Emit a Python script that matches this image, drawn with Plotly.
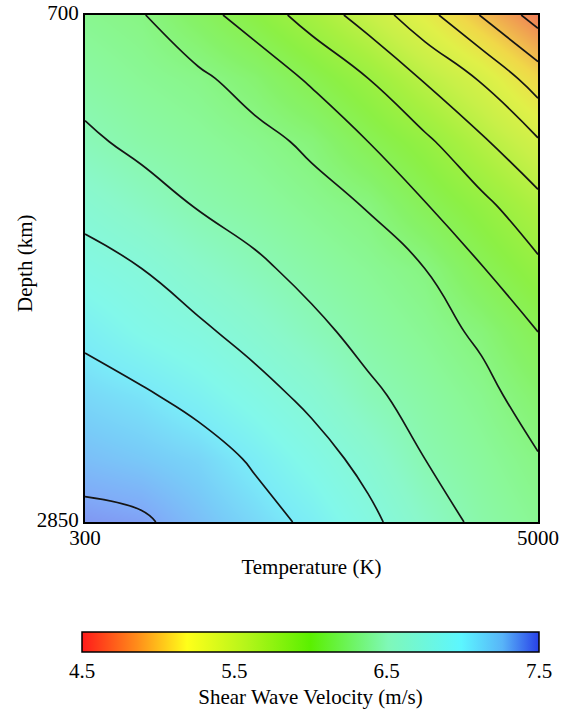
import plotly.graph_objects as go

# Temperature grid (K) and depth grid (km)
temperature = [300, 887.5, 1475, 2062.5, 2650, 3237.5, 3825, 4412.5, 5000]
depth = [700, 968.75, 1237.5, 1506.25, 1775, 2043.75, 2312.5, 2581.25, 2850]

# Shear wave velocity (rows = depth, cols = temperature)
vs = [
    [6.26, 6.21, 6.07, 5.91, 5.72, 5.51, 5.27, 4.99, 4.72],
    [6.34, 6.28, 6.23, 6.13, 5.97, 5.80, 5.58, 5.38, 5.10],
    [6.43, 6.36, 6.31, 6.25, 6.17, 6.00, 5.84, 5.63, 5.42],
    [6.55, 6.47, 6.39, 6.33, 6.26, 6.19, 6.01, 5.85, 5.66],
    [6.66, 6.60, 6.51, 6.43, 6.35, 6.28, 6.20, 6.01, 5.84],
    [6.77, 6.69, 6.63, 6.54, 6.44, 6.35, 6.27, 6.17, 6.00],
    [6.86, 6.82, 6.75, 6.66, 6.56, 6.43, 6.34, 6.25, 6.12],
    [6.94, 6.91, 6.87, 6.78, 6.67, 6.55, 6.40, 6.31, 6.21],
    [7.04, 7.02, 6.94, 6.86, 6.77, 6.64, 6.49, 6.36, 6.27],
]

contour_start, contour_end, contour_step = 4.8, 7.0, 0.2
cbar_ticks = [4.5, 5.5, 6.5, 7.5]
vmin, vmax = 4.5, 7.5

bar_scale = [
    [0.0, "#ff1a1a"], [0.12, "#ff8c1a"], [0.23, "#ffff1a"], [0.36, "#b4f51a"],
    [0.5, "#5af000"], [0.67, "#7ff8b8"], [0.83, "#5cf6ff"], [0.92, "#58b4f8"],
    [1.0, "#2840e8"],
]
plot_scale = [
    [0.0, "#f06050"], [0.0667, "#f07858"], [0.133, "#f0a850"], [0.2, "#f0d848"],
    [0.267, "#e0f048"], [0.333, "#c8f048"], [0.4, "#a8f040"], [0.467, "#8cf044"],
    [0.533, "#86f268"], [0.6, "#8af89a"], [0.667, "#8af8ca"], [0.733, "#82f8ea"],
    [0.767, "#7aeaf8"], [0.8, "#78ccf8"], [0.833, "#80aaf8"], [0.85, "#8092f0"],
    [1.0, "#6060e0"],
]

FONT = "Liberation Serif"
FS = 21

fig = go.Figure()
# underlying trace that provides the colour bar
fig.add_trace(go.Heatmap(
    x=temperature, y=depth, z=vs, zmin=vmin, zmax=vmax, zsmooth="best",
    colorscale=bar_scale, showscale=True, hoverinfo="skip",
    colorbar=dict(
        orientation="h", x=0.4978, xanchor="center", y=-0.216, yanchor="top",
        len=457, lenmode="pixels", thickness=20, xpad=0, ypad=0,
        outlinewidth=1.5, outlinecolor="black",
        tickvals=cbar_ticks, ticktext=[f"{t:.1f}" for t in cbar_ticks], ticks="",
        tickfont=dict(family=FONT, size=FS, color="black"),
        title=dict(text="Shear Wave Velocity (m/s)", side="bottom",
                   font=dict(family=FONT, size=FS, color="black")),
    ),
))
# visible shaded field
fig.add_trace(go.Heatmap(
    x=temperature, y=depth, z=vs, zmin=vmin, zmax=vmax, zsmooth="best",
    colorscale=plot_scale, showscale=False, hoverinfo="skip",
))
# contour lines
fig.add_trace(go.Contour(
    x=temperature, y=depth, z=vs, showscale=False,
    contours=dict(start=contour_start, end=contour_end, size=contour_step, coloring="none"),
    line=dict(color="#151515", width=1.7, smoothing=1.3),
    hoverinfo="skip",
))

fig.update_layout(
    width=571, height=710,
    margin=dict(l=85, r=33, t=15, b=188, autoexpand=False),
    paper_bgcolor="white", plot_bgcolor="white",
    font=dict(family=FONT, size=FS, color="black"),
    showlegend=False,
    annotations=[dict(
        text="Depth (km)", textangle=-90, xref="paper", yref="paper",
        x=-0.1325, y=0.511, xanchor="center", yanchor="middle", showarrow=False,
        font=dict(family=FONT, size=FS, color="black"),
    )],
)
fig.update_xaxes(
    range=[300, 5000], tickvals=[300, 5000], ticks="", showgrid=False, zeroline=False,
    showline=True, mirror=True, linecolor="black", linewidth=2, automargin=False,
    tickfont=dict(family=FONT, size=FS), ticklabelstandoff=-4, ticklabeloverflow="allow",
    title=dict(text="Temperature (K)", font=dict(family=FONT, size=FS), standoff=10),
)
fig.update_yaxes(
    range=[2850, 700], tickvals=[700, 2850], ticks="", showgrid=False, zeroline=False,
    showline=True, mirror=True, linecolor="black", linewidth=2, automargin=False,
    tickfont=dict(family=FONT, size=FS), ticklabeloverflow="allow", ticklabelshift=2,
)

fig.write_html("out.html", config={"displayModeBar": False},
               post_script="document.body.style.margin='0';")
